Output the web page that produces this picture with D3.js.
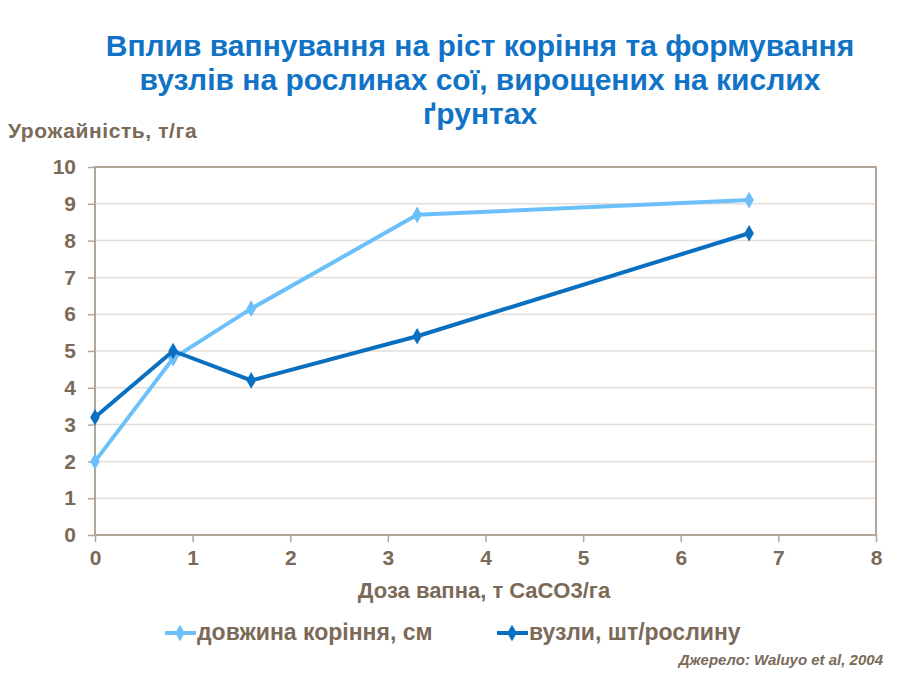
<!DOCTYPE html>
<html>
<head>
<meta charset="utf-8">
<script src="https://cdn.jsdelivr.net/npm/d3@7"></script>
<style>
  body { margin: 0; background: #fff; }
  svg { font-family: "Liberation Sans", Arial, sans-serif; }
</style>
</head>
<body>
<svg id="chart" width="900" height="675"></svg>
<script>
// lime dose, t CaCO3/ha
const doses = [0, 0.8, 1.6, 3.3, 6.7];
const rootLength = [2.0, 4.8, 6.15, 8.7, 9.1];
const nodules = [3.2, 5.0, 4.2, 5.4, 8.2];
const seriesNames = ["довжина коріння, см", "вузли, шт/рослину"];
const xTicks = [0, 1, 2, 3, 4, 5, 6, 7, 8];
const yTicks = [0, 1, 2, 3, 4, 5, 6, 7, 8, 9, 10];

const textColor = "#7b6a58",
      frameColor = "#b1a698",
      gridColor = "#e3dedb",
      colors = ["#6cc0fa", "#0a6fbf"];

const svg = d3.select("#chart");
const margin = {left: 95, right: 24, top: 167, bottom: 140};
const width = 900 - margin.left - margin.right,
      height = 675 - margin.top - margin.bottom;

const x = d3.scaleLinear().domain([0, 8]).range([0, width]);
const y = d3.scaleLinear().domain([0, 10]).range([height, 0]);

// title
const title = ["Вплив вапнування на ріст коріння та формування",
               "вузлів на рослинах сої, вирощених на кислих",
               "ґрунтах"];
svg.append("text")
   .attr("x", 480).attr("y", 56)
   .attr("text-anchor", "middle")
   .attr("fill", "#1173c6")
   .style("font-size", "30px").style("font-weight", "bold")
   .selectAll("tspan").data(title).enter().append("tspan")
     .attr("x", 480).attr("dy", (d, i) => i ? 34 : 0)
     .text(d => d);

svg.append("text")
   .attr("x", 8).attr("y", 138)
   .attr("fill", textColor)
   .style("font-size", "21px").style("font-weight", "bold")
   .style("letter-spacing", "0.6px")
   .text("Урожайність, т/га");

const g = svg.append("g").attr("transform", `translate(${margin.left},${margin.top})`);

// grid
g.selectAll(".grid").data(yTicks.slice(1, -1)).enter().append("line")
 .attr("x1", 0).attr("x2", width)
 .attr("y1", d => y(d)).attr("y2", d => y(d))
 .attr("stroke", gridColor).attr("stroke-width", 1.5);

// frame
g.append("rect")
 .attr("width", width).attr("height", height)
 .attr("fill", "none").attr("stroke", frameColor).attr("stroke-width", 2);

const yAxis = g.append("g")
  .call(d3.axisLeft(y).tickValues(yTicks).tickSize(7).tickPadding(12));
const xAxis = g.append("g").attr("transform", `translate(0,${height})`)
  .call(d3.axisBottom(x).tickValues(xTicks).tickSize(7).tickPadding(4));

[xAxis, yAxis].forEach(a => {
  a.select(".domain").remove();
  a.selectAll("line").attr("stroke", frameColor).attr("stroke-width", 1.5);
  a.selectAll("text")
   .attr("fill", textColor)
   .style("font-family", "'Liberation Sans', Arial, sans-serif")
   .style("font-size", "21px").style("font-weight", "bold");
});
xAxis.selectAll("text").attr("dy", "0.9em");

svg.append("text")
   .attr("x", 484).attr("y", 598)
   .attr("text-anchor", "middle")
   .attr("fill", textColor)
   .style("font-size", "22px").style("font-weight", "bold")
   .text("Доза вапна, т CaCO3/га");

// lines
const line = d3.line().x(d => x(d[0])).y(d => y(d[1]));
const series = [rootLength, nodules].map(v => doses.map((d, i) => [d, v[i]]));
const diamond = d3.symbol().type(d3.symbolDiamond).size(80);

series.forEach((s, k) => {
  g.append("path").datum(s)
   .attr("d", line)
   .attr("fill", "none")
   .attr("stroke", colors[k])
   .attr("stroke-width", 4)
   .attr("stroke-linejoin", "round");
  g.selectAll(".pt" + k).data(s).enter().append("path")
   .attr("transform", d => `translate(${x(d[0])},${y(d[1])})`)
   .attr("d", diamond)
   .attr("fill", colors[k]);
});

// legend
const legendX = [165, 497];
seriesNames.forEach((name, k) => {
  const lg = svg.append("g").attr("transform", `translate(${legendX[k]},633)`);
  lg.append("line").attr("x1", 0).attr("x2", 31)
    .attr("stroke", colors[k]).attr("stroke-width", 4);
  lg.append("path").attr("transform", "translate(15,0)")
    .attr("d", diamond).attr("fill", colors[k]);
  lg.append("text").attr("x", 32).attr("y", 7)
    .attr("fill", textColor)
    .style("font-size", "23px").style("font-weight", "bold")
    .text(name);
});

svg.append("text")
   .attr("x", 883).attr("y", 665)
   .attr("text-anchor", "end")
   .attr("fill", textColor)
   .style("font-size", "15px").style("font-weight", "bold").style("font-style", "italic")
   .text("Джерело: Waluyo et al, 2004");
</script>
</body>
</html>
